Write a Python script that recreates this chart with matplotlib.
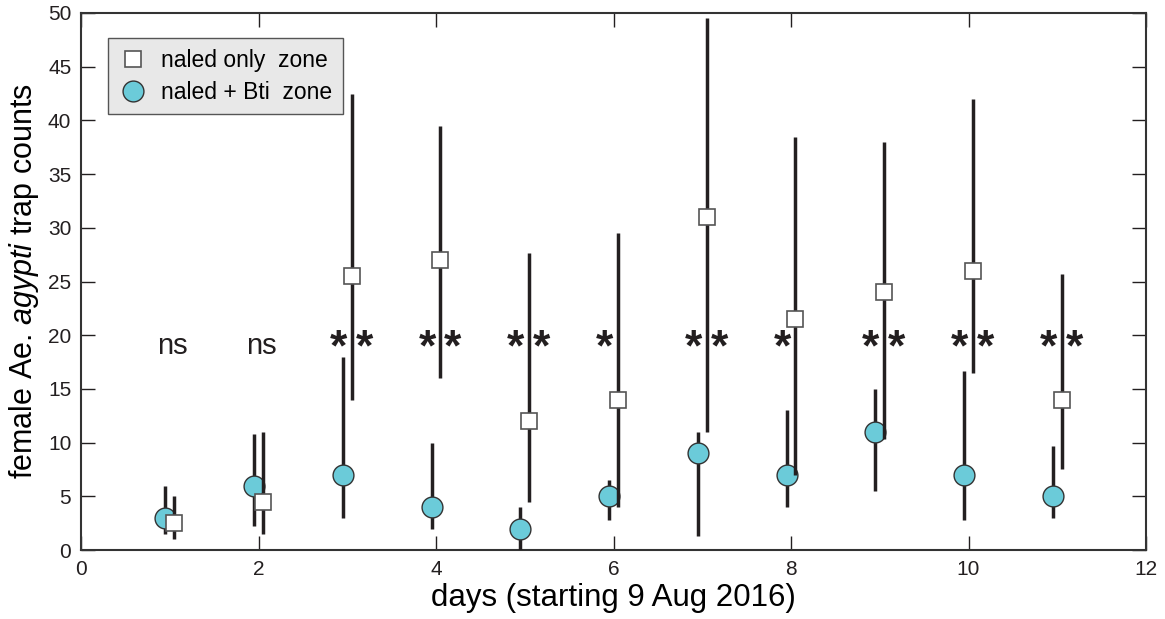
import matplotlib
matplotlib.use("Agg")
import matplotlib.pyplot as plt
from matplotlib.lines import Line2D

plt.rcParams['font.family'] = ['Liberation Sans', 'DejaVu Sans']
plt.rcParams['mathtext.fontset'] = 'custom'
plt.rcParams['mathtext.rm'] = 'Liberation Sans'
plt.rcParams['mathtext.it'] = 'Liberation Sans:italic'

days = [1, 2, 3, 4, 5, 6, 7, 8, 9, 10, 11]

# naled only zone (squares): median, lower, upper
naled_mid = [2.5, 4.5, 25.5, 27, 12, 14, 31, 21.5, 24, 26, 14]
naled_lo = [1, 1.5, 14, 16, 4.5, 4, 11, 7, 10.3, 16.5, 7.5]
naled_hi = [5, 11, 42.5, 39.5, 27.7, 29.5, 49.5, 38.5, 38, 42, 25.7]

# naled + Bti zone (circles)
bti_mid = [3, 6, 7, 4, 2, 5, 9, 7, 11, 7, 5]
bti_lo = [1.5, 2.2, 3, 2, 0, 2.8, 1.3, 4, 5.5, 2.8, 3]
bti_hi = [6, 10.8, 18, 10, 4, 6.5, 11, 13, 15, 16.7, 9.7]

# significance marks per day
sig = ['ns', 'ns', '**', '**', '**', '*', '**', '*', '**', '**', '**']

fig = plt.figure(figsize=(11.65, 6.19), dpi=100)
ax = fig.add_axes([81 / 1165, 69 / 619, 1065 / 1165, 537 / 619])

off = 0.05
line_col = '#231f20'
bti_col = '#6bcbd9'

xb = [d - off for d in days]
ax.errorbar(xb, bti_mid,
            yerr=[[m - l for m, l in zip(bti_mid, bti_lo)], [h - m for m, h in zip(bti_mid, bti_hi)]],
            fmt='o', ms=15, mfc=bti_col, mec='#333333', mew=1.0,
            ecolor=line_col, elinewidth=2.5, capsize=0, zorder=3)

xn = [d + off for d in days]
ax.errorbar(xn, naled_mid,
            yerr=[[m - l for m, l in zip(naled_mid, naled_lo)], [h - m for m, h in zip(naled_mid, naled_hi)]],
            fmt='s', ms=12, mfc='white', mec='#555555', mew=1.2,
            ecolor=line_col, elinewidth=2.5, capsize=0, zorder=4)

# significance labels
for d, s in zip(days, sig):
    if s == 'ns':
        ax.text(d + 0.03, 19, 'ns', fontsize=21, ha='center', va='center', color=line_col)
    else:
        ax.text(d - 0.1, 18.7, '*', fontsize=32, fontweight='bold', ha='center', va='center', color=line_col)
        if s == '**':
            ax.text(d + 0.19, 18.7, '*', fontsize=32, fontweight='bold', ha='center', va='center', color=line_col)

ax.set_xlim(0, 12)
ax.set_ylim(0, 50)
ax.set_xticks(range(0, 13, 2))
ax.set_yticks(range(0, 51, 5))
ax.tick_params(direction='in', top=True, right=True, length=10, width=1, labelsize=15,
               colors=line_col, pad=7)
for sp in ax.spines.values():
    sp.set_linewidth(1.5)
    sp.set_color('#333333')

ax.set_xlabel('days (starting 9 Aug 2016)', fontsize=22.5, labelpad=3)
ax.set_ylabel('female Ae. $\\mathit{agypti}$ trap counts', fontsize=22, labelpad=5)

handles = [
    Line2D([], [], ls='none', marker='s', ms=12, mfc='white', mec='#555555', mew=1.2),
    Line2D([], [], ls='none', marker='o', ms=15, mfc=bti_col, mec='#333333', mew=1.0),
]
leg = ax.legend(handles, ['naled only  zone', 'naled + Bti  zone'], loc='upper left',
                bbox_to_anchor=(0.025, 0.953), borderaxespad=0,
                fontsize=16.5, frameon=True, fancybox=False, handletextpad=0.6, borderpad=0.45,
                handlelength=1.3, labelspacing=0.4)
leg.get_frame().set_facecolor('#e8e8e8')
leg.get_frame().set_edgecolor('#555555')
leg.get_frame().set_linewidth(1.0)
leg.get_frame().set_alpha(1)

fig.savefig('out.png', dpi=100)
